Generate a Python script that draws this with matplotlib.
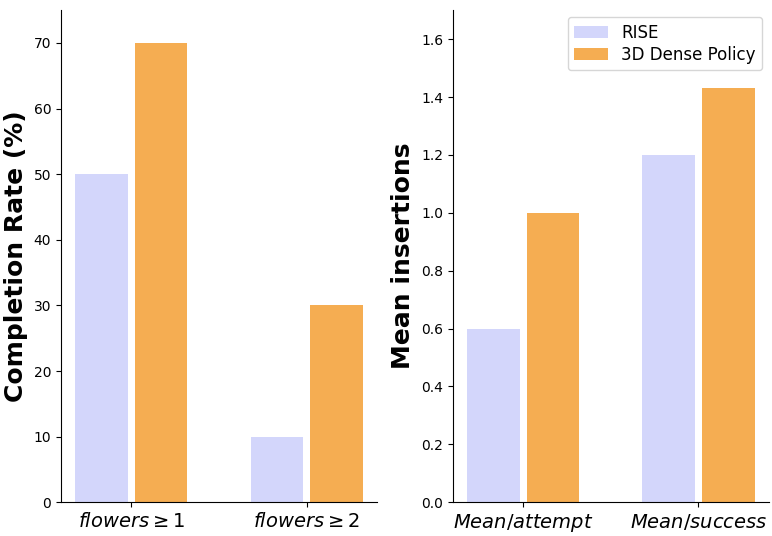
import matplotlib
matplotlib.use("Agg")
import matplotlib.pyplot as plt
import numpy as np

# data
groups_left = [r'$flowers \geq 1$', r'$flowers \geq 2$']
rise_left = [50, 10]
dp3_left = [70, 30]

groups_right = [r'$Mean/attempt$', r'$Mean/success$']
rise_right = [0.6, 1.2]
dp3_right = [1.0, 1.43]

c_rise = '#d3d6fb'
c_dp3 = '#f5ad52'
w = 0.3

fig, (ax1, ax2) = plt.subplots(1, 2, figsize=(7.72, 5.36), dpi=100)
x = np.arange(2)

ax1.bar(x - 0.17, rise_left, w, color=c_rise, label='RISE')
ax1.bar(x + 0.17, dp3_left, w, color=c_dp3, label='3D Dense Policy')
ax1.set_xticks(x)
ax1.set_xticklabels(groups_left, fontsize=14)
ax1.set_ylim(0, 75)
ax1.set_ylabel('Completion Rate (%)', fontsize=18, fontweight='bold')

ax2.bar(x - 0.17, rise_right, w, color=c_rise, label='RISE')
ax2.bar(x + 0.17, dp3_right, w, color=c_dp3, label='3D Dense Policy')
ax2.set_xticks(x)
ax2.set_xticklabels(groups_right, fontsize=14)
ax2.set_ylim(0, 1.7)
ax2.set_ylabel('Mean insertions', fontsize=18, fontweight='bold')
ax2.legend(fontsize=12, loc='upper right', labelspacing=0.25, borderaxespad=0.4)

for ax in (ax1, ax2):
    ax.spines['top'].set_visible(False)
    ax.spines['right'].set_visible(False)

plt.subplots_adjust(left=0.079, right=0.996, top=0.981, bottom=0.063, wspace=0.24)
plt.savefig('out.png')
